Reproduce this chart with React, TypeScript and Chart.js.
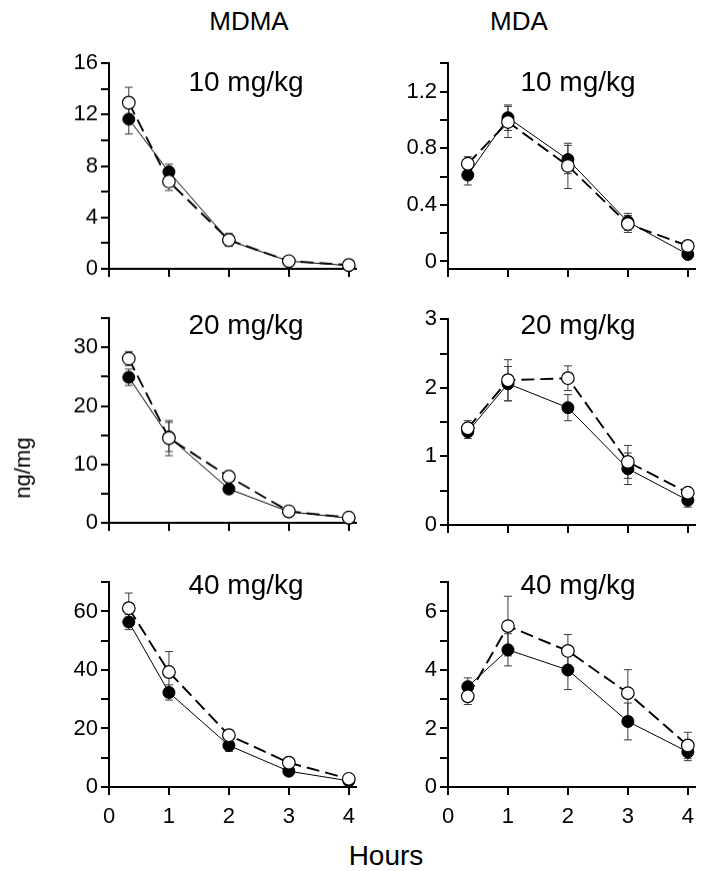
import React, { useEffect, useRef } from "react";
import { Chart, registerables } from "chart.js";
Chart.register(...registerables);

// ---------- data ----------
const HOURS = [0.33, 1, 2, 3, 4];
const X_TICKS = [0, 1, 2, 3, 4];

const MDMA10_FILLED = [11.65, 7.55, 2.2, 0.6, 0.25];
const MDMA10_FILLED_ERR = [1.15, 0.6, 0.4, 0.15, 0.1];
const MDMA10_OPEN = [12.93, 6.8, 2.25, 0.6, 0.3];
const MDMA10_OPEN_ERR = [1.2, 0.7, 0.5, 0.15, 0.1];

const MDA10_FILLED = [0.61, 1.015, 0.72, 0.28, 0.05];
const MDA10_FILLED_ERR = [0.07, 0.09, 0.1, 0.06, 0.02];
const MDA10_OPEN = [0.69, 0.985, 0.675, 0.265, 0.11];
const MDA10_OPEN_ERR = [0.05, 0.11, 0.16, 0.06, 0.02];

const MDMA20_FILLED = [24.9, 14.7, 5.8, 1.9, 0.8];
const MDMA20_FILLED_ERR = [1.4, 2.5, 0.5, 0.3, 0.2];
const MDMA20_OPEN = [28.1, 14.5, 7.9, 1.97, 0.9];
const MDMA20_OPEN_ERR = [1.2, 3.0, 0.6, 0.3, 0.2];

const MDA20_FILLED = [1.36, 2.06, 1.71, 0.82, 0.36];
const MDA20_FILLED_ERR = [0.1, 0.25, 0.19, 0.23, 0.1];
const MDA20_OPEN = [1.41, 2.11, 2.14, 0.92, 0.47];
const MDA20_OPEN_ERR = [0.11, 0.3, 0.18, 0.24, 0.06];

const MDMA40_FILLED = [56.4, 32.3, 14.2, 5.4, 2.1];
const MDMA40_FILLED_ERR = [2.6, 2.6, 2.0, 0.8, 0.5];
const MDMA40_OPEN = [61.1, 39.3, 17.7, 8.3, 2.8];
const MDMA40_OPEN_ERR = [5.2, 7.0, 1.0, 0.8, 0.5];

const MDA40_FILLED = [3.43, 4.69, 4.0, 2.24, 1.2];
const MDA40_FILLED_ERR = [0.3, 0.55, 0.67, 0.63, 0.3];
const MDA40_OPEN = [3.1, 5.5, 4.65, 3.21, 1.42];
const MDA40_OPEN_ERR = [0.28, 1.02, 0.56, 0.8, 0.45];

// y-axis ticks (minor) and labelled ticks
const MDMA10_TICKS = [0, 2, 4, 6, 8, 10, 12, 14, 16];
const MDMA10_LABELS = [0, 4, 8, 12, 16];
const MDA10_TICKS = [0, 0.2, 0.4, 0.6, 0.8, 1.0, 1.2, 1.4];
const MDA10_LABELS = [0, 0.4, 0.8, 1.2];
const MDMA20_TICKS = [0, 5, 10, 15, 20, 25, 30, 35];
const MDMA20_LABELS = [0, 10, 20, 30];
const MDA20_TICKS = [0, 0.5, 1, 1.5, 2, 2.5, 3];
const MDA20_LABELS = [0, 1, 2, 3];
const MDMA40_TICKS = [0, 10, 20, 30, 40, 50, 60, 70];
const MDMA40_LABELS = [0, 20, 40, 60];
const MDA40_TICKS = [0, 1, 2, 3, 4, 5, 6, 7];
const MDA40_LABELS = [0, 2, 4, 6];

const COLUMN_TITLES = ["MDMA", "MDA"];
const DOSE_LABELS = ["10 mg/kg", "20 mg/kg", "40 mg/kg"];
const Y_TITLE = "ng/mg";
const X_TITLE = "Hours";

// ---------- layout ----------
const FONT = "'Liberation Sans', Arial, Helvetica, sans-serif";
const COL_LEFT = [109, 448];
const PLOT_W = 247;
const X_MAX = 4.12;
const Y_AXIS_W = 75;
const X_AXIS_H = 50;
const PAD_TOP = 12;
const PAD_RIGHT = 12;
const TICK_FONT = 22;

type PanelDef = {
  col: number;
  top: number;
  height: number;
  yMin: number;
  yMax: number;
  ticks: number[];
  labels: number[];
  filled: number[];
  filledErr: number[];
  open: number[];
  openErr: number[];
  showX: boolean;
};

const PANELS: PanelDef[] = [
  { col: 0, top: 59, height: 209.5, yMin: 0, yMax: 16, ticks: MDMA10_TICKS, labels: MDMA10_LABELS, filled: MDMA10_FILLED, filledErr: MDMA10_FILLED_ERR, open: MDMA10_OPEN, openErr: MDMA10_OPEN_ERR, showX: false },
  { col: 1, top: 59.4, height: 210, yMin: -0.053, yMax: 1.4, ticks: MDA10_TICKS, labels: MDA10_LABELS, filled: MDA10_FILLED, filledErr: MDA10_FILLED_ERR, open: MDA10_OPEN, openErr: MDA10_OPEN_ERR, showX: false },
  { col: 0, top: 314.3, height: 208.5, yMin: 0, yMax: 35, ticks: MDMA20_TICKS, labels: MDMA20_LABELS, filled: MDMA20_FILLED, filledErr: MDMA20_FILLED_ERR, open: MDMA20_OPEN, openErr: MDMA20_OPEN_ERR, showX: false },
  { col: 1, top: 315, height: 210, yMin: 0, yMax: 3, ticks: MDA20_TICKS, labels: MDA20_LABELS, filled: MDA20_FILLED, filledErr: MDA20_FILLED_ERR, open: MDA20_OPEN, openErr: MDA20_OPEN_ERR, showX: false },
  { col: 0, top: 577.7, height: 209.6, yMin: 0, yMax: 70, ticks: MDMA40_TICKS, labels: MDMA40_LABELS, filled: MDMA40_FILLED, filledErr: MDMA40_FILLED_ERR, open: MDMA40_OPEN, openErr: MDMA40_OPEN_ERR, showX: true },
  { col: 1, top: 577.7, height: 209.6, yMin: 0, yMax: 7, ticks: MDA40_TICKS, labels: MDA40_LABELS, filled: MDA40_FILLED, filledErr: MDA40_FILLED_ERR, open: MDA40_OPEN, openErr: MDA40_OPEN_ERR, showX: true },
];

const errorBarPlugin = {
  id: "errorBars",
  beforeDatasetsDraw(chart: any) {
    const ctx = chart.ctx;
    const xs = chart.scales.x;
    const ys = chart.scales.y;
    chart.data.datasets.forEach((ds: any) => {
      const errs: number[] = ds.errors;
      if (!errs) return;
      ds.data.forEach((p: any, i: number) => {
        const e = errs[i];
        if (!e) return;
        const x = xs.getPixelForValue(p.x);
        const y1 = ys.getPixelForValue(p.y + e);
        const y2 = ys.getPixelForValue(p.y - e);
        ctx.save();
        ctx.strokeStyle = "#3a3a3a";
        ctx.lineWidth = 1;
        ctx.beginPath();
        ctx.moveTo(x, y1);
        ctx.lineTo(x, y2);
        ctx.moveTo(x - 4, y1);
        ctx.lineTo(x + 4, y1);
        ctx.moveTo(x - 4, y2);
        ctx.lineTo(x + 4, y2);
        ctx.stroke();
        ctx.restore();
      });
    });
  },
};

function Panel({ def }: { def: PanelDef }) {
  const ref = useRef<HTMLCanvasElement | null>(null);
  useEffect(() => {
    if (!ref.current) return;
    const pts = (vals: number[]) => HOURS.map((h, i) => ({ x: h, y: vals[i] }));
    const chart = new Chart(ref.current, {
      type: "line",
      data: {
        datasets: [
          {
            data: pts(def.open),
            errors: def.openErr,
            borderColor: "#000",
            borderWidth: 1.9,
            borderDash: [13, 6],
            pointRadius: 6.3,
            pointBackgroundColor: "#fff",
            pointBorderColor: "#000",
            pointBorderWidth: 1.2,
            fill: false,
            tension: 0,
            clip: false,
          } as any,
          {
            data: pts(def.filled),
            errors: def.filledErr,
            borderColor: "#000",
            borderWidth: 1,
            pointRadius: 6,
            pointBackgroundColor: "#000",
            pointBorderColor: "#000",
            pointBorderWidth: 1,
            fill: false,
            tension: 0,
            clip: false,
          } as any,
        ],
      },
      options: {
        animation: false,
        responsive: false,
        maintainAspectRatio: false,
        events: [],
        layout: { padding: { top: PAD_TOP, right: PAD_RIGHT, left: 0, bottom: 0 } },
        plugins: { legend: { display: false }, tooltip: { enabled: false }, title: { display: false } },
        scales: {
          x: {
            type: "linear",
            min: 0,
            max: X_MAX,
            afterBuildTicks: (s: any) => {
              s.ticks = X_TICKS.map((v) => ({ value: v }));
            },
            afterFit: (s: any) => {
              s.height = X_AXIS_H;
            },
            ticks: {
              display: def.showX,
              color: "#000",
              padding: 9,
              maxRotation: 0,
              autoSkip: false,
              font: { family: FONT, size: TICK_FONT },
              callback: (v: any) => String(v),
            },
            grid: { drawOnChartArea: false, drawTicks: true, tickLength: 8, color: "#000", lineWidth: 2 },
            border: { display: true, color: "#000", width: 2 },
          },
          y: {
            type: "linear",
            min: def.yMin,
            max: def.yMax,
            afterBuildTicks: (s: any) => {
              s.ticks = def.ticks.map((v) => ({ value: v }));
            },
            afterFit: (s: any) => {
              s.width = Y_AXIS_W;
            },
            ticks: {
              color: "#000",
              padding: 3,
              autoSkip: false,
              font: { family: FONT, size: TICK_FONT },
              callback: (v: any) => {
                const hit = def.labels.find((l) => Math.abs(l - v) < 1e-6);
                return hit === undefined ? "" : String(hit);
              },
            },
            grid: { drawOnChartArea: false, drawTicks: true, tickLength: 8, color: "#000", lineWidth: 2 },
            border: { display: true, color: "#000", width: 2 },
          },
        },
      } as any,
      plugins: [errorBarPlugin],
    });
    return () => chart.destroy();
  }, [def]);

  const left = COL_LEFT[def.col] - Y_AXIS_W;
  const top = def.top - PAD_TOP;
  const width = Y_AXIS_W + PLOT_W + PAD_RIGHT;
  const height = PAD_TOP + def.height + X_AXIS_H;
  return (
    <canvas
      ref={ref}
      width={width}
      height={height}
      style={{ position: "absolute", left, top, width, height }}
    />
  );
}

function Text({ x, baseline, size, children, rotate }: { x: number; baseline: number; size: number; children: any; rotate?: boolean }) {
  if (rotate) {
    return (
      <div
        style={{
          position: "absolute",
          left: x,
          top: baseline,
          fontSize: size,
          lineHeight: 1,
          whiteSpace: "nowrap",
          fontFamily: FONT,
          color: "#000",
          transform: "translate(-50%, -50%) rotate(-90deg)",
        }}
      >
        {children}
      </div>
    );
  }
  return (
    <div
      style={{
        position: "absolute",
        left: x,
        top: baseline - 0.8465 * size,
        fontSize: size,
        lineHeight: 1,
        whiteSpace: "nowrap",
        fontFamily: FONT,
        color: "#000",
        transform: "translateX(-50%)",
      }}
    >
      {children}
    </div>
  );
}

export default function App() {
  const doseBaselines = [91.7, 335, 595];
  const doseCenters = [246, 578];
  return (
    <div style={{ position: "absolute", left: 0, top: 0, width: 704, height: 871, background: "#fff", overflow: "hidden" }}>
      {PANELS.map((p, i) => (
        <Panel key={i} def={p} />
      ))}
      <Text x={249} baseline={30} size={26}>{COLUMN_TITLES[0]}</Text>
      <Text x={519} baseline={30} size={26}>{COLUMN_TITLES[1]}</Text>
      {DOSE_LABELS.map((d, r) =>
        doseCenters.map((cx, c) => (
          <Text key={r + "-" + c} x={cx} baseline={doseBaselines[r]} size={28}>{d}</Text>
        ))
      )}
      <Text x={386} baseline={866} size={28}>{X_TITLE}</Text>
      <Text x={23} baseline={468} size={22} rotate>{Y_TITLE}</Text>
    </div>
  );
}
